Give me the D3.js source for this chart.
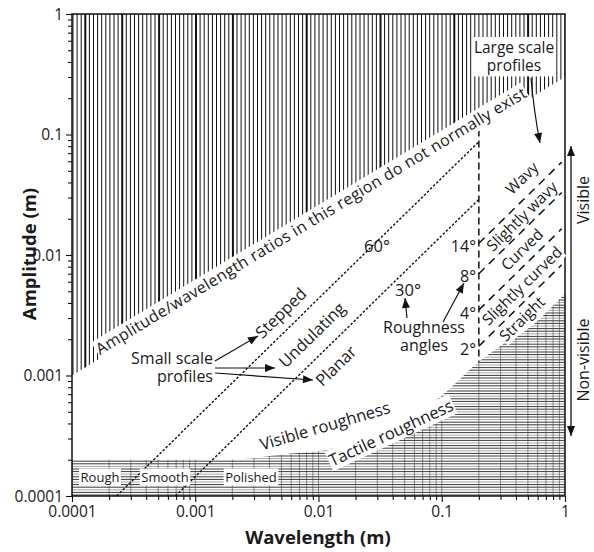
<!DOCTYPE html>
<html><head><meta charset="utf-8">
<script src="https://cdn.jsdelivr.net/npm/d3@7"></script>
<style>body{margin:0;background:#fff}svg{display:block}text{font-family:"Open Sans",sans-serif;fill:#1a1a1a}</style>
</head><body><svg id="c" width="594" height="552"></svg>
<script>
// ---- data ----
const majorTicks = [0.0001, 0.001, 0.01, 0.1, 1];
const majorTickLabels = ["0.0001", "0.001", "0.01", "0.1", "1"];
const limitLine = [[0.0001, 0.001], [1, 0.3]];            // upper limit of existing ratios
const line60 = [[0.00023, 0.0001], [0.2, 0.087]];          // 60° roughness line
const line30 = [[0.00069, 0.0001], [0.2, 0.029]];          // 30° roughness line
const scaleDivide = [[0.2, 0.11], [0.2, 0.0013]];          // small/large scale divide
const largeAngles = ["14°", "8°", "4°", "2°"];
const largeStartAmp = [0.0125, 0.007, 0.0035, 0.00175];    // amplitude at λ = 0.2
const largeEndAmp = [0.059, 0.033, 0.0165, 0.0083];        // amplitude at λ = 0.94
const largeStartWl = 0.2, largeEndWl = 0.94;
const largeLabels = ["Wavy", "Slightly wavy", "Curved", "Slightly curved", "Straight"];
const tactileBoundary = [[0.0001, 0.0002], [0.0019, 0.0002], [0.0049, 0.00022], [0.0124, 0.000245],
  [0.0315, 0.00035], [0.055, 0.00044], [0.1, 0.00068], [0.2, 0.0013], [0.31, 0.0018], [0.49, 0.0024], [1, 0.0048]];
const finishLabels = ["Rough", "Smooth", "Polished"];

// ---- chart ----
const svg = d3.select("#c");
const L = 72, R = 565, T = 14, B = 496;
const x = d3.scaleLog().domain([1e-4, 1]).range([L, R]);
const y = d3.scaleLog().domain([1e-4, 1]).range([B, T]);
const defs = svg.append("defs");

defs.append("marker").attr("id", "ah").attr("viewBox", "0 0 10 8").attr("refX", 10).attr("refY", 4)
  .attr("markerWidth", 11).attr("markerHeight", 8).attr("markerUnits", "userSpaceOnUse").attr("orient", "auto")
  .append("path").attr("d", "M0,0L10,4L0,8Z").attr("fill", "#111");

// clip regions
const topPoly = [[x(limitLine[0][0]), y(limitLine[0][1])], [x(limitLine[1][0]), y(limitLine[1][1])], [R, T], [L, T]];
defs.append("clipPath").attr("id", "clipTop").append("path").attr("d", "M" + topPoly.join("L") + "Z");
const bLine = d3.line().x(d => x(d[0])).y(d => y(d[1])).curve(d3.curveMonotoneX);
defs.append("clipPath").attr("id", "clipBot").append("path")
  .attr("d", bLine(tactileBoundary) + `L${R},${B}L${L},${B}Z`);

// vertical hatch (top region)
const gTop = svg.append("g").attr("clip-path", "url(#clipTop)");
d3.range(L + 1, R, 4.1).forEach((px, i) => {
  const thick = (i % 9 === 3) && (i % 18 !== 12 || i < 40);
  gTop.append("line").attr("x1", px).attr("x2", px).attr("y1", T).attr("y2", B)
    .attr("stroke", "#111").attr("stroke-width", thick ? 2.0 : 1.0);
});

// horizontal hatch (bottom region)
const gBot = svg.append("g").attr("clip-path", "url(#clipBot)");
d3.range(B - 1, 280, -2.6).forEach((py, i) => {
  gBot.append("line").attr("x1", L).attr("x2", R).attr("y1", py).attr("y2", py)
    .attr("stroke", i % 3 === 2 ? "#9a9a9a" : "#222").attr("stroke-width", 0.9);
});
const minorVals = [];
for (let e = -4; e < 0; e++) for (let m = 2; m <= 9; m++) minorVals.push(m * Math.pow(10, e));
minorVals.concat(majorTicks).forEach(v => {
  gBot.append("line").attr("x1", x(v)).attr("x2", x(v)).attr("y1", T).attr("y2", B)
    .attr("stroke", "#444").attr("stroke-width", 0.6);
});

// axes
const ax = svg.append("g");
const xAxisMinor = d3.axisBottom(x).tickValues(minorVals).tickSize(4).tickFormat("");
const xAxisMajor = d3.axisBottom(x).tickValues(majorTicks).tickSize(6).tickFormat((d, i) => majorTickLabels[i]);
const yAxisMinor = d3.axisLeft(y).tickValues(minorVals).tickSize(4).tickFormat("");
const yAxisMajor = d3.axisLeft(y).tickValues(majorTicks).tickSize(6).tickFormat((d, i) => majorTickLabels[i]);
[[xAxisMinor, "b"], [xAxisMajor, "b"], [yAxisMinor, "l"], [yAxisMajor, "l"]].forEach(([a, s]) => {
  const g = ax.append("g").attr("transform", s === "b" ? `translate(0,${B})` : `translate(${L},0)`).call(a);
  g.select(".domain").remove();
  g.selectAll("line").attr("stroke", "#111").attr("stroke-width", 1.1);
  g.selectAll("text").attr("font-size", 15.5).attr("fill", "#1a1a1a").style("font-family", '"Open Sans",sans-serif');
  if (s === "b") g.selectAll("text").attr("dy", "0.9em").attr("y", 7);
  else g.selectAll("text").attr("x", -9).attr("dy", "0.35em");
});
svg.append("rect").attr("x", L).attr("y", T).attr("width", R - L).attr("height", B - T)
  .attr("fill", "none").attr("stroke", "#111").attr("stroke-width", 1.5);

// axis titles
svg.append("text").attr("x", 318).attr("y", 544).attr("text-anchor", "middle")
  .attr("font-size", 18.5).attr("font-weight", "bold").text("Wavelength (m)");
svg.append("text").attr("transform", "translate(36,254) rotate(-90)").attr("text-anchor", "middle")
  .attr("font-size", 18.5).attr("font-weight", "bold").text("Amplitude (m)");

// lines
const ln = d3.line().x(d => x(d[0])).y(d => y(d[1]));
svg.append("path").attr("d", ln(line60)).attr("fill", "none").attr("stroke", "#111").attr("stroke-width", 1.4).attr("stroke-dasharray", "2.5,1.8");
svg.append("path").attr("d", ln(line30)).attr("fill", "none").attr("stroke", "#111").attr("stroke-width", 1.4).attr("stroke-dasharray", "2.5,1.8");
svg.append("path").attr("d", ln(scaleDivide)).attr("fill", "none").attr("stroke", "#111").attr("stroke-width", 1.5).attr("stroke-dasharray", "7,4");
largeStartAmp.forEach((a, i) => {
  svg.append("path").attr("d", ln([[largeStartWl, a], [largeEndWl, largeEndAmp[i]]]))
    .attr("fill", "none").attr("stroke", "#111").attr("stroke-width", 1.5).attr("stroke-dasharray", "8,6");
});

// text helper: one text element (lines as tspans), optional white background band
function label(t, px, py, opts = {}) {
  const g = svg.append("g").attr("transform", `translate(${px},${py}) rotate(${opts.rot || 0})`);
  const bg = opts.bg != null ? g.append("rect").attr("fill", "#fff") : null;
  const el = g.append("text").attr("text-anchor", opts.anchor || "middle").attr("font-size", opts.size || 15.5);
  const lines = Array.isArray(t) ? t : [t];
  const lh = opts.lh || 16.5;
  lines.forEach((s, i) => el.append("tspan").attr("x", 0).attr("y", i * lh)
    .attr("dy", opts.dy != null ? opts.dy : "0.35em").text(s));
  if (opts.len) el.select("tspan").attr("textLength", opts.len).attr("lengthAdjust", "spacing");
  if (bg) {
    const b = el.node().getBBox();
    const p = opts.bg;
    bg.attr("x", b.x - p).attr("y", b.y + 2.5 - p).attr("width", b.width + 2 * p).attr("height", b.height - 4 + 2 * p);
  }
  return el;
}
const limAngle = Math.atan2(y(limitLine[1][1]) - y(limitLine[0][1]), x(limitLine[1][0]) - x(limitLine[0][0])) * 180 / Math.PI;
const diagAngle = Math.atan2(y(0.1) - y(0.01), x(0.1) - x(0.01)) * 180 / Math.PI;

label("Amplitude/wavelength ratios in this region do not normally exist", 311, 221, { rot: limAngle, size: 16, bg: 1, len: 500 });
label(["Large scale", "profiles"], 514, 48, { size: 15.5, bg: 2, lh: 17.5 });
label(["Small scale", "profiles"], 213, 358, { anchor: "end", size: 16, lh: 18 });
label("Stepped", 281, 313, { rot: diagAngle, size: 16.5, bg: 0 });
label("Undulating", 312, 335, { rot: diagAngle, size: 16.5, bg: 0 });
label("Planar", 336, 366, { rot: diagAngle, size: 16.5, bg: 0 });
label("60°", 377, 246, { size: 16.5 });
label("30°", 408, 290, { size: 16.5 });
label(["Roughness", "angles"], 424, 327, { size: 16, lh: 18 });
largeAngles.forEach((t, i) => label(t, 476, y(largeStartAmp[i]) + 3, { anchor: "end", size: 16 }));

// large-scale class labels sit in the bands between the angle lines
const lx = 522, lwl = x.invert(lx);
const lineAt = i => y(largeStartAmp[i] * lwl / largeStartWl);
const bandY = [lineAt(0) - 23, (lineAt(0) + lineAt(1)) / 2, (lineAt(1) + lineAt(2)) / 2, (lineAt(2) + lineAt(3)) / 2, lineAt(3) + 15];
largeLabels.forEach((t, i) => label(t, lx, bandY[i], { rot: diagAngle, size: 15.5, bg: 0.5 }));

label("Visible roughness", 325, 426, { rot: -16.3, size: 16.5 });
label("Tactile roughness", 391, 433, { rot: -25, size: 16.5, bg: 1 });
const finX = [100, 165, 251];
finishLabels.forEach((t, i) => label(t, finX[i], 477, { size: 13, bg: 1.5 }));
label("Visible", 589, 200, { rot: -90, size: 16, dy: 0 });
label("Non-visible", 589, 360, { rot: -90, size: 16, dy: 0 });

// arrows
const arr = (d) => svg.append("path").attr("d", d).attr("fill", "none").attr("stroke", "#111").attr("stroke-width", 1.2).attr("marker-end", "url(#ah)");
arr("M215,361L258,336");
arr("M215,368L275,368");
arr("M215,373L313,380");
arr("M531,78Q534,112 540,143");
arr("M407,318L405,298");
arr("M443,322L464,283");
svg.append("line").attr("x1", 571).attr("x2", 571).attr("y1", 290).attr("y2", 146).attr("stroke", "#111").attr("stroke-width", 1.3).attr("marker-end", "url(#ah)");
svg.append("line").attr("x1", 571).attr("x2", 571).attr("y1", 290).attr("y2", 436).attr("stroke", "#111").attr("stroke-width", 1.3).attr("marker-end", "url(#ah)");
</script></body></html>
